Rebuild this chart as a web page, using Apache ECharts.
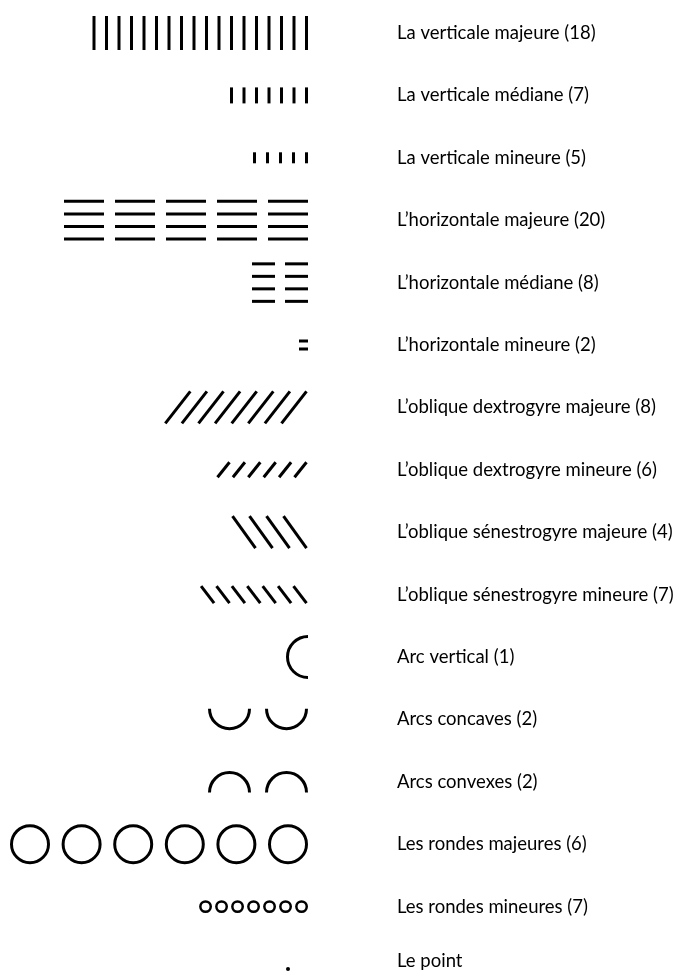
<!DOCTYPE html>
<html><head><meta charset="utf-8">
<style>html,body{margin:0;padding:0;background:#fff}#c{width:680px;height:976px}</style>
<script src="https://cdn.jsdelivr.net/npm/echarts@6/dist/echarts.min.js"></script>
</head><body><div id="c"></div>
<script>
const categories = [
  'La verticale majeure (18)',
  'La verticale médiane (7)',
  'La verticale mineure (5)',
  'L’horizontale majeure (20)',
  'L’horizontale médiane (8)',
  'L’horizontale mineure (2)',
  'L’oblique dextrogyre majeure (8)',
  'L’oblique dextrogyre mineure (6)',
  'L’oblique sénestrogyre majeure (4)',
  'L’oblique sénestrogyre mineure (7)',
  'Arc vertical (1)',
  'Arcs concaves (2)',
  'Arcs convexes (2)',
  'Les rondes majeures (6)',
  'Les rondes mineures (7)',
  'Le point'
];
const counts = [18, 7, 5, 20, 8, 2, 8, 6, 4, 7, 1, 2, 2, 6, 7, 1];
const glyphKinds = ['vMaj','vMed','vMin','hMaj','hMed','hMin','dMaj','dMin','sMaj','sMin','arcV','arcConcave','arcConvex','circleMaj','circleMin','point'];

// glyph drawing styles (pixel sizes)
const glyphStyle = {
  vMaj: {shape:'vbar', w:3, h:34, pitch:12.5},
  vMed: {shape:'vbar', w:3, h:16, pitch:12.5},
  vMin: {shape:'vbar', w:3, h:11, pitch:13},
  hMaj: {shape:'hgroup', len:40, gap:12.6, groupPitch:51, groupSize:4, t:3},
  hMed: {shape:'hgroup', len:23, gap:12.5, groupPitch:33, groupSize:4, t:3},
  hMin: {shape:'hgroup', len:9, gap:8, groupPitch:20, groupSize:2, t:3},
  dMaj: {shape:'slash', dx:25, dy:32, pitch:16.6},
  dMin: {shape:'slash', dx:12, dy:15, pitch:15.4},
  sMaj: {shape:'backslash', dx:23, dy:32, pitch:17},
  sMin: {shape:'backslash', dx:13, dy:17, pitch:15.4},
  arcV: {shape:'arcV', r:20.5},
  arcConcave: {shape:'arcU', r:20, pitch:57},
  arcConvex: {shape:'arcN', r:20, pitch:57},
  circleMaj: {shape:'ring', r:18.5, pitch:51.6, lw:3},
  circleMin: {shape:'ring', r:5.2, pitch:16, lw:2.5},
  point: {shape:'dot', r:2, offset:20}
};
const ink = '#000';

function renderItem(params, api) {
  const row = api.value(1);
  const n = api.value(2);
  const p = api.coord([api.value(0), row]);
  const xr = p[0], yc = p[1];
  const s = glyphStyle[glyphKinds[row]];
  const ch = [];
  const line = (x1, y1, x2, y2, lw) => ch.push({type:'line', shape:{x1,y1,x2,y2}, style:{stroke:ink, lineWidth:lw||3, lineCap:'butt'}});
  if (s.shape === 'vbar') {
    for (let k = 0; k < n; k++) {
      ch.push({type:'rect', shape:{x: xr - s.w - k*s.pitch, y: yc - s.h/2, width: s.w, height: s.h}, style:{fill:ink}});
    }
  } else if (s.shape === 'hgroup') {
    const groups = Math.round(n / s.groupSize);
    for (let g = 0; g < groups; g++) {
      for (let l = 0; l < s.groupSize; l++) {
        const y = yc + (l - (s.groupSize - 1)/2) * s.gap;
        ch.push({type:'rect', shape:{x: xr - s.len - g*s.groupPitch, y: y - s.t/2, width: s.len, height: s.t}, style:{fill:ink}});
      }
    }
  } else if (s.shape === 'slash') {
    for (let k = 0; k < n; k++) {
      const x2 = xr - 1.5 - k*s.pitch;
      line(x2 - s.dx, yc + s.dy/2, x2, yc - s.dy/2);
    }
  } else if (s.shape === 'backslash') {
    for (let k = 0; k < n; k++) {
      const x2 = xr - 1.5 - k*s.pitch;
      line(x2 - s.dx, yc - s.dy/2, x2, yc + s.dy/2);
    }
  } else if (s.shape === 'arcV') {
    ch.push({type:'arc', shape:{cx: xr, cy: yc, r: s.r, startAngle: Math.PI/2, endAngle: Math.PI*1.5, clockwise:true}, style:{stroke:ink, fill:null, lineWidth:3}});
  } else if (s.shape === 'arcU' || s.shape === 'arcN') {
    for (let k = 0; k < n; k++) {
      const cx = xr - s.r - 1.5 - k*s.pitch;
      const half = (s.r + 1.5)/2;
      if (s.shape === 'arcU') {
        ch.push({type:'arc', shape:{cx, cy: yc - half, r: s.r, startAngle: 0, endAngle: Math.PI, clockwise:true}, style:{stroke:ink, fill:null, lineWidth:3}});
      } else {
        ch.push({type:'arc', shape:{cx, cy: yc + half, r: s.r, startAngle: Math.PI, endAngle: Math.PI*2, clockwise:true}, style:{stroke:ink, fill:null, lineWidth:3}});
      }
    }
  } else if (s.shape === 'ring') {
    for (let k = 0; k < n; k++) {
      const cx = xr - s.r - s.lw/2 - k*s.pitch;
      ch.push({type:'circle', shape:{cx, cy: yc, r: s.r}, style:{stroke:ink, fill:null, lineWidth:s.lw}});
    }
  } else if (s.shape === 'dot') {
    for (let k = 0; k < n; k++) {
      ch.push({type:'circle', shape:{cx: xr - s.offset, cy: yc, r: s.r}, style:{fill:ink}});
    }
  }
  return {type:'group', children: ch};
}

const chart = echarts.init(document.getElementById('c'), null, {renderer:'canvas'});
chart.setOption({
  animation: false,
  backgroundColor: '#fff',
  grid: {left: 0, right: 372, top: 1.8, height: 998.4, outerBoundsMode: 'none', containLabel: false},
  xAxis: {type:'value', min:0, max:1, show:false},
  yAxis: {
    type:'category', inverse:true, position:'right', data: categories,
    axisLine:{show:false}, axisTick:{show:false}, splitLine:{show:false},
    axisLabel:{
      margin: 89, align:'left', fontSize:18.5, fontFamily:'Lato', color:'#000', interval:0,
      formatter: (v, i) => i === categories.length - 1 ? '{up|' + v + '}' : v,
      rich: {up: {fontSize:18.5, fontFamily:'Lato', color:'#000', padding:[0,0,16,0]}}
    }
  },
  series: [{
    type:'custom', renderItem,
    data: counts.map((c, i) => [1, i, c]),
    clip: false
  }]
});
</script></body></html>
